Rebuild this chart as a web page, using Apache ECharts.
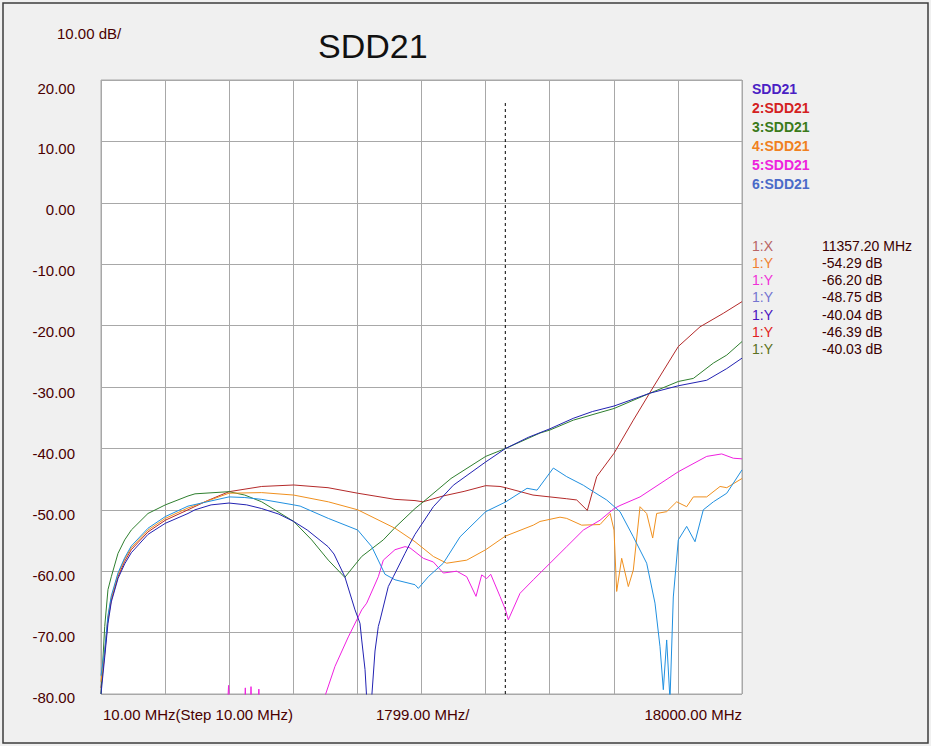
<!DOCTYPE html>
<html><head><meta charset="utf-8">
<script src="https://cdn.jsdelivr.net/npm/echarts@6/dist/echarts.min.js"></script>
<style>html,body{margin:0;padding:0;background:#f0f0f0;}#c{width:931px;height:746px;}</style>
</head><body><div id="c"></div>
<script>
// ---- axis settings / tick labels ----
const yMin = -80, yMax = 20, yStep = 10;
const xStartMHz = 10, xStopMHz = 18000, xStepMHz = 1799;
const bottomLabels = ['10.00 MHz(Step 10.00 MHz)', '1799.00 MHz/', '18000.00 MHz'];
const scaleLabel = '10.00 dB/';
const titleText = 'SDD21';

// ---- legend / marker readout ----
const seriesNames = ['SDD21', '2:SDD21', '3:SDD21', '4:SDD21', '5:SDD21', '6:SDD21'];
const markerFreq = 11357.2;
const markerLabels = ['1:X', '1:Y', '1:Y', '1:Y', '1:Y', '1:Y', '1:Y'];
const markerValues = ['11357.20 MHz', '-54.29 dB', '-66.20 dB', '-48.75 dB', '-40.04 dB', '-46.39 dB', '-40.03 dB'];

// ---- traces: [frequency MHz, dB] (values below -80 fall off-screen) ----
const trace1 = [[10,-80],[114,-74],[206,-68.5],[299,-65],[487,-61.2],[675,-58.8],[860,-57],[1329,-54],[1815,-52.2],[2452,-50.6],
  [2648,-50],[3100,-49.2],[3602,-48.9],[4100,-49.2],[4520,-49.8],[5000,-50.7],[5418,-51.9],[5800,-53.3],[6381,-56],[6549,-57.2],
  [6853,-60.9],[7139,-66.3],[7279,-68.5],[7327,-71.2],[7420,-76],[7480,-82],[7590,-82],[7700,-73],[7793,-69],[7840,-68],
  [8073,-62.5],[8214,-60.9],[8542,-57.1],[8682,-55.5],[8823,-54],[9337,-49.5],[9898,-46],[10807,-42.2],[11357.2,-40.04],
  [12000,-38.2],[12612,-36.8],[13265,-35.1],[13800,-34],[14408,-33.1],[15420,-31],[16213,-29.8],[17010,-28.9],[17572,-27],[18000,-25.3]];
const trace2 = [[10,-79],[114,-73.4],[206,-67.9],[299,-64.7],[487,-60.9],[675,-58.4],[860,-56.5],[1329,-53.6],[1815,-51.7],[2452,-50],
  [3000,-48.5],[3602,-47.05],[4520,-46.2],[5418,-45.96],[6381,-46.4],[7215,-47.3],[8261,-48.3],[8823,-48.5],[9047,-48.7],
  [9609,-47.75],[10200,-47],[10807,-46.07],[11208,-46.2],[11357.2,-46.39],[12134,-47.6],[13080,-48.2],[13361,-48.4],[13659,-50.1],
  [13922,-44.6],[14408,-40.8],[14950,-35.4],[15511,-30],[16213,-23.4],[16822,-20.2],[17475,-18],[18000,-16.1]];
const trace3 = [[10,-80],[114,-69],[206,-63],[299,-60.9],[487,-57.1],[675,-54.9],[860,-53.3],[1329,-50.6],[1815,-49.2],[2452,-47.75],
  [2648,-47.4],[3602,-47.05],[4046,-47.6],[4520,-48.7],[5418,-51.9],[5923,-54.9],[6390,-58.2],[6853,-61],[7327,-57.6],[7933,-54.9],
  [8261,-52.9],[8823,-49.8],[9056,-48.7],[9833,-44.9],[10807,-41.3],[11357.2,-40.03],[12331,-37.5],[12612,-37],[13265,-35.4],
  [14408,-33.5],[15420,-31],[16213,-29.1],[16635,-28.6],[17197,-26.1],[17572,-24.8],[18000,-22.6]];
const trace4 = [[10,-78],[114,-73],[206,-67.5],[299,-64.3],[487,-60.5],[675,-58],[860,-56.2],[1329,-53.3],[1815,-51.4],[2452,-49.7],
  [3602,-47.3],[4520,-47.2],[5418,-47.6],[6390,-48.7],[7215,-50],[8261,-53],[8823,-55.2],[9337,-57.6],[9711,-58.7],[10274,-58.2],
  [10807,-56.5],[11357.2,-54.29],[12143,-52.5],[12331,-51.9],[12892,-51.2],[13080,-51.4],[13500,-52.5],[14015,-52.4],[14300,-50.6],
  [14408,-53.3],[14483,-63.3],[14623,-57.9],[14810,-62.5],[14950,-59.8],[15138,-49.5],[15325,-50.6],[15493,-54.6],[15605,-50.6],
  [15886,-50.3],[16166,-48.7],[16447,-49.5],[16635,-47.9],[17010,-47.9],[17384,-46.2],[17572,-46.4],[18000,-44.9]];
const trace5 = [[10,-82],[3560,-82],[3590,-78.6],[3620,-82],[4040,-82],[4060,-79],[4080,-82],[4200,-82],[4220,-78.8],[4240,-82],
  [4420,-82],[4440,-79.2],[4460,-82],[6200,-82],[6577,-75.5],[6951,-70.7],[7327,-66.3],[7467,-65.2],[7793,-60.9],[7933,-58.2],
  [8261,-56.5],[8542,-56],[8682,-56.2],[9056,-57.9],[9337,-58.5],[9617,-60.3],[9993,-60],[10274,-60.9],[10535,-64.1],[10695,-60.6],
  [10835,-61.2],[10948,-60.5],[11209,-64.1],[11357.2,-66.2],[11442,-67.9],[11770,-63.6],[12143,-61.4],[12612,-58.7],[13080,-56],
  [13547,-53.3],[14015,-51.7],[14408,-49.8],[14576,-49.3],[15138,-47.9],[16213,-43.8],[17010,-41.3],[17431,-40.9],[17757,-41.6],[18000,-41.7]];
const trace6 = [[10,-77],[114,-72.8],[206,-67.2],[299,-64],[487,-60.3],[675,-57.8],[860,-55.9],[1329,-53],[1815,-51.1],[2452,-49.4],
  [3602,-47.9],[4046,-48],[4520,-48.3],[5418,-49.2],[5600,-49.4],[6390,-51.4],[7215,-53.3],[7608,-56],[7980,-60.5],[8261,-61.4],
  [8823,-62.2],[8916,-62.8],[9196,-60.9],[9617,-58.7],[10087,-54.4],[10807,-50.3],[11357.2,-48.75],[11967,-46.5],[12248,-46.8],
  [12705,-43.2],[13080,-44.6],[13547,-46],[13828,-47.05],[14202,-48.4],[14576,-50.3],[14950,-54.4],[15325,-58.7],[15558,-65.2],
  [15699,-72.3],[15792,-79.3],[15886,-71.2],[15979,-81],[16072,-64.2],[16213,-54.9],[16447,-52.7],[16681,-55.2],[16914,-50],
  [17197,-48.7],[17572,-47.3],[18000,-43.5]];
const markerLineTop = 16.7;

// ---- styles ----
const traceColors = ['#2222b2', '#b42a2a', '#2f7f2f', '#f0901e', '#f020e0', '#2090e0'];
const legendColors = ['#4b1fc4', '#d42020', '#3a7a1a', '#f08020', '#ee22dd', '#4a6ac8'];
const markerLabelColors = ['#b86464', '#f08030', '#f030d8', '#7474d0', '#4a10c0', '#e02020', '#5a7020'];
const textDark = '#4a0000';
const gridColor = '#a8a8a8';

const traces = [trace1, trace2, trace3, trace4, trace5, trace6];
const series = traces.map((d, i) => ({
  name: seriesNames[i], type: 'line', data: d, showSymbol: false, symbol: 'none',
  lineStyle: { width: 1, color: traceColors[i] }, itemStyle: { color: traceColors[i] }, z: 3 + (i === 0 ? 3 : 0), clip: true
}));
series.push({
  name: 'marker', type: 'line', data: [[markerFreq, yMin], [markerFreq, markerLineTop]], symbol: 'none',
  lineStyle: { width: 1, color: '#000', type: [3, 3] }, z: 2
});

const rich = {};
for (let k = 0; k <= 10; k++) {
  const off = 3 + k * 0.5;
  rich['l' + k] = { fontSize: 15, color: textDark, fontFamily: 'Liberation Sans, Arial, sans-serif', padding: [off * 2, 0, 0, 0] };
}

const graphics = [
  { type: 'rect', shape: { x: 3, y: 3, width: 925, height: 740 }, style: { fill: 'none', stroke: '#3c3c3c', lineWidth: 1.5 }, silent: true },
  { type: 'text', x: 57, y: 33, style: { text: scaleLabel, fill: textDark, font: '15px "Liberation Sans", Arial, sans-serif', textVerticalAlign: 'middle' } },
  { type: 'text', x: 318, y: 46, style: { text: titleText, fill: '#111', font: '34px "Liberation Sans", Arial, sans-serif', textVerticalAlign: 'middle' } },
  { type: 'text', x: 103, y: 714, style: { text: bottomLabels[0], fill: textDark, font: '15px "Liberation Sans", Arial, sans-serif', textVerticalAlign: 'middle' } },
  { type: 'text', x: 376, y: 714, style: { text: bottomLabels[1], fill: textDark, font: '15px "Liberation Sans", Arial, sans-serif', textVerticalAlign: 'middle' } },
  { type: 'text', x: 742, y: 714, style: { text: bottomLabels[2], fill: textDark, font: '15px "Liberation Sans", Arial, sans-serif', textVerticalAlign: 'middle', textAlign: 'right' } }
];
seriesNames.forEach((n, i) => {
  graphics.push({ type: 'text', x: 752, y: 89 + i * 18.9, style: { text: n, fill: legendColors[i], font: 'bold 14px "Liberation Sans", Arial, sans-serif', textVerticalAlign: 'middle' } });
});
markerLabels.forEach((n, i) => {
  const y = 245.5 + i * 17.25;
  graphics.push({ type: 'text', x: 752, y: y, style: { text: n, fill: markerLabelColors[i], font: '14px "Liberation Sans", Arial, sans-serif', textVerticalAlign: 'middle' } });
  graphics.push({ type: 'text', x: 822, y: y, style: { text: markerValues[i], fill: '#3a0000', font: '14px "Liberation Sans", Arial, sans-serif', textVerticalAlign: 'middle' } });
});

const chart = echarts.init(document.getElementById('c'), null, { renderer: 'svg' });
chart.setOption({
  animation: false,
  backgroundColor: '#f0f0f0',
  grid: { left: 101, top: 80, width: 641, height: 614, show: true, backgroundColor: '#ffffff', borderColor: gridColor, borderWidth: 1 },
  xAxis: {
    type: 'value', min: xStartMHz, max: xStopMHz, interval: xStepMHz,
    axisLine: { show: false }, axisTick: { show: false }, axisLabel: { show: false },
    splitLine: { show: true, lineStyle: { color: gridColor, width: 1 } }
  },
  yAxis: {
    type: 'value', min: yMin, max: yMax, interval: yStep,
    axisLine: { show: false }, axisTick: { show: false },
    axisLabel: { margin: 26, formatter: v => '{l' + Math.round((v - yMin) / yStep) + '|' + v.toFixed(2) + '}', rich: rich },
    splitLine: { show: true, lineStyle: { color: gridColor, width: 1 } }
  },
  series: series,
  graphic: graphics
});
</script></body></html>
